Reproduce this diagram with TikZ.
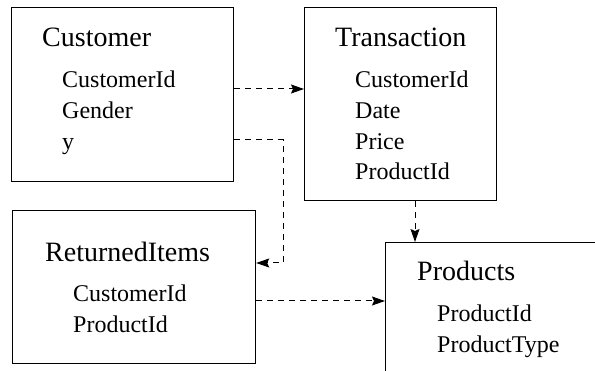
\documentclass[tikz,border=0pt]{standalone}
\usepackage{fontspec}
\setmainfont{Liberation Serif}
\newfontfamily\tabfont{Liberation Serif}
\usetikzlibrary{arrows.meta}

\begin{document}
\begin{tikzpicture}[x=1pt, y=-1pt,
    box/.style={draw, line width=1.2pt, anchor=north west, inner sep=0pt},
    title/.style={anchor=base west, inner sep=0pt, font=\tabfont\fontsize{28}{31}\selectfont},
    attr/.style={anchor=base west, inner sep=0pt, font=\tabfont\fontsize{24}{27}\selectfont},
    link/.style={line width=1pt, dash pattern=on 6pt off 5pt, -{Stealth[length=13pt,width=9pt,inset=2pt]}}]
    \useasboundingbox (0,0) rectangle (595,371);
    \clip (0,0) rectangle (595,371);

    % Draw the tables
    \node [box, minimum width=222pt, minimum height=174pt] (cust) at (11,7) {};
    \node [box, minimum width=192pt, minimum height=193pt] (trans) at (304,7) {};
    \node [box, minimum width=243pt, minimum height=153pt] (ret) at (12,210) {};
    \node [box, minimum width=260pt, minimum height=160pt] (prod) at (385,242) {};

    % Label tables
    \node [title] (custname) at (42,47) {Customer};
    \node [title] (transname) at (335,47) {Transaction};
    \node [title] (retname) at (45,262) {ReturnedItems};
    \node [title] (prodname) at (417,281) {Products};

    % Label fields
    \node [attr] (custid) at (62,88) {CustomerId};
    \node [attr] (custgender) at (62,119) {Gender};
    \node [attr] (custy) at (62,150) {y};
    \node [attr] (transcust) at (355,88) {CustomerId};
    \node [attr] (transdate) at (355,119) {Date};
    \node [attr] (transprice) at (355,150) {Price};
    \node [attr] (transprod) at (355,180) {ProductId};
    \node [attr] (retcust) at (73,302) {CustomerId};
    \node [attr] (retprod) at (73,333) {ProductId};
    \node [attr] (prodid) at (437,322) {ProductId};
    \node [attr] (prodtype) at (437,353) {ProductType};

    % Define link ends
    \coordinate (k1) at ([yshift=-82pt]cust.north east);
    \coordinate (k2) at ([yshift=-133pt]cust.north east);
    \coordinate (bend) at (283,263);
    \coordinate (k3) at ([yshift=-91pt]ret.north east);
    \coordinate (k4) at ([xshift=111pt]trans.south west);

    % Draw the links
    \draw [link] (k1) -- (k1 -| trans.west);
    \draw [link] (k2) -| (bend) -- (bend -| ret.east);
    \draw [link] (k3) -- (k3 -| prod.west);
    \draw [link] (k4) -- (k4 |- prod.north);

\end{tikzpicture}
\end{document}
